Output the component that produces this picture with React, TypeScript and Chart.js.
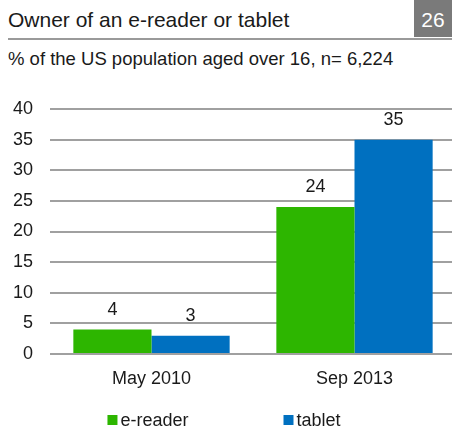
import React, { useEffect, useRef } from "react";
import { Chart, registerables } from "chart.js";

Chart.register(...registerables);

const categories = ["May 2010", "Sep 2013"];
const seriesNames = ["e-reader", "tablet"];
const ereaderValues = [4, 24];
const tabletValues = [3, 35];
const seriesColors = ["#2db600", "#0070c0"];
const yMin = 0;
const yMax = 40;
const yStep = 5;

const FONT = "'Liberation Sans', Arial, sans-serif";
const TEXT = "#1a1a1a";

const valueLabels = {
  id: "valueLabels",
  afterDatasetsDraw(chart: any) {
    const ctx = chart.ctx;
    ctx.save();
    ctx.font = `18px ${FONT}`;
    ctx.fillStyle = TEXT;
    ctx.textAlign = "center";
    ctx.textBaseline = "alphabetic";
    chart.data.datasets.forEach((ds: any, i: number) => {
      const meta = chart.getDatasetMeta(i);
      meta.data.forEach((el: any, j: number) => {
        ctx.fillText(String(ds.data[j]), el.x, el.y - 15);
      });
    });
    ctx.restore();
  },
};

const bottomLegend = {
  id: "bottomLegend",
  afterDraw(chart: any) {
    const ctx = chart.ctx;
    ctx.save();
    ctx.font = `18px ${FONT}`;
    const box = 10;
    const gapText = 3;
    const gapItem = 95;
    const items = chart.data.datasets.map((ds: any) => ({
      label: ds.label,
      color: ds.backgroundColor,
      w: box + gapText + ctx.measureText(ds.label).width,
    }));
    const total =
      items.reduce((s: number, it: any) => s + it.w, 0) + gapItem * (items.length - 1);
    let x = 224 - total / 2;
    const boxTop = 415;
    const baseline = 426;
    items.forEach((it: any) => {
      ctx.fillStyle = it.color;
      ctx.fillRect(x, boxTop, box, box);
      ctx.fillStyle = TEXT;
      ctx.textAlign = "left";
      ctx.textBaseline = "alphabetic";
      ctx.fillText(it.label, x + box + gapText, baseline);
      x += it.w + gapItem;
    });
    ctx.restore();
  },
};

export default function App() {
  const canvasRef = useRef<HTMLCanvasElement | null>(null);

  useEffect(() => {
    if (!canvasRef.current) return;
    const chart = new Chart(canvasRef.current, {
      type: "bar",
      data: {
        labels: categories,
        datasets: [
          {
            label: seriesNames[0],
            data: ereaderValues,
            backgroundColor: seriesColors[0],
            borderWidth: 0,
            categoryPercentage: 0.77,
            barPercentage: 1,
          },
          {
            label: seriesNames[1],
            data: tabletValues,
            backgroundColor: seriesColors[1],
            borderWidth: 0,
            categoryPercentage: 0.77,
            barPercentage: 1,
          },
        ],
      },
      options: {
        responsive: false,
        animation: false,
        layout: { padding: { top: 109, right: 14, bottom: 0, left: 0 } },
        plugins: {
          legend: { display: false },
          tooltip: { enabled: false },
        },
        scales: {
          x: {
            grid: { display: false },
            border: { display: false },
            ticks: { font: { size: 18, family: FONT }, color: TEXT, padding: 6 },
            afterFit(s: any) {
              s.height = 76;
            },
          },
          y: {
            min: yMin,
            max: yMax,
            ticks: {
              stepSize: yStep,
              padding: 17,
              font: { size: 18, family: FONT },
              color: TEXT,
            },
            grid: { color: "#a0a0a0", lineWidth: 2, drawTicks: false },
            border: { display: false },
            afterFit(s: any) {
              s.width = 50;
            },
          },
        },
      },
      plugins: [valueLabels, bottomLegend],
    } as any);
    return () => chart.destroy();
  }, []);

  return (
    <div
      style={{
        position: "absolute",
        left: 0,
        top: 0,
        width: 452,
        height: 430,
        overflow: "hidden",
        background: "#fff",
        fontFamily: FONT,
        color: TEXT,
      }}
    >
      <div
        style={{
          position: "absolute",
          left: 8,
          top: 8,
          fontSize: 21,
          lineHeight: "24px",
          whiteSpace: "nowrap",
        }}
      >
        Owner of an e-reader or tablet
      </div>
      <div
        style={{
          position: "absolute",
          left: 414,
          top: 0,
          width: 38,
          height: 37,
          background: "#7a7a7a",
          color: "#fff",
          fontSize: 21,
          lineHeight: "24px",
          paddingTop: 8,
          boxSizing: "border-box",
          textAlign: "center",
        }}
      >
        26
      </div>
      <div
        style={{
          position: "absolute",
          left: 8,
          top: 38,
          width: 444,
          height: 2,
          background: "#9a9a9a",
        }}
      />
      <div
        style={{
          position: "absolute",
          left: 8,
          top: 49,
          fontSize: 18.5,
          lineHeight: "20px",
          whiteSpace: "nowrap",
        }}
      >
        % of the US population aged over 16, n= 6,224
      </div>
      <canvas
        ref={canvasRef}
        width={470}
        height={430}
        style={{ position: "absolute", left: 0, top: 0, display: "block" }}
      />
    </div>
  );
}
